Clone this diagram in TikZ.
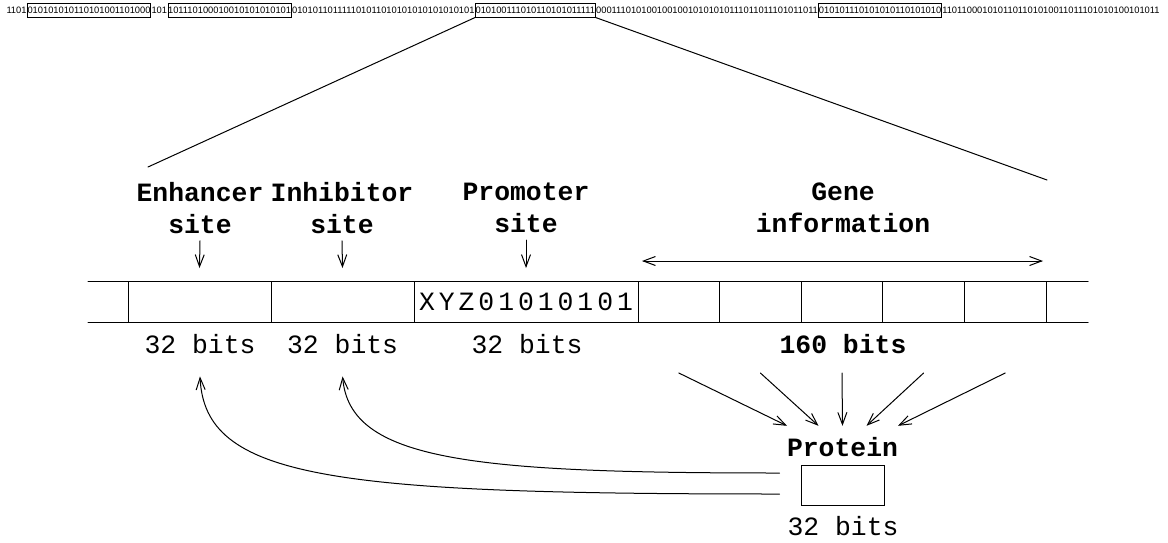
\documentclass[tikz,border=0pt]{standalone}
\usepackage{fontspec}
\setmonofont{Liberation Mono}
\newfontfamily\bitfont{Liberation Sans}
\usepackage{tikz}
\usetikzlibrary{arrows.meta, positioning, calc}

\begin{document}
\begin{tikzpicture}[x=0.5pt, y=-0.5pt, line width=0.5pt, style={line cap = round},
	>={Straight Barb[length=6pt, width=4.5pt]},
	bits/.style={font=\bitfont\fontsize{4.66}{5}\selectfont, inner sep=0pt, minimum height=7pt, anchor=west},
	bitbox/.style={bits, draw},
	lbl/.style={font=\ttfamily\bfseries\fontsize{13.2}{16}\selectfont, align=center},
	txt/.style={font=\ttfamily\fontsize{13.2}{16}\selectfont},
	spaced/.style={font=\ttfamily\fontsize{13.2}{16}\selectfont\addfontfeature{LetterSpace=15}},
	cell/.style={draw, minimum height=20.5pt, inner sep=0pt, outer sep=0pt}]
					\useasboundingbox (0,0) rectangle (1168,542);
					\node[bits] (s0) at (6,10) {1101};
					\node[bitbox, right=0pt of s0] (bx1) {010101010110101001101000};
					\node[bits, right=0pt of bx1] (s1) {101};
					\node[bitbox, right=0pt of s1] (bx2) {101110100010010101010101};
					\node[bits, right=0pt of bx2] (s2) {010101101111101011010101010101010101};
					\node[bitbox, right=0pt of s2] (bx3) {010100111010110101011111};
					\node[bits, right=0pt of bx3] (s3) {00011101010010010010101010111011011101011011};
					\node[bitbox, right=0pt of s3] (bx4) {010101110101010110101010};
					\node[bits, right=0pt of bx4] (s4) {1101100010101101101010011011101010100101011};
					\coordinate (zl) at (148,167);
					\coordinate (zr) at (1047,180);
					\draw (bx3.south west) -- (zl);
					\draw (bx3.south east) -- (zr);
					\node[cell, minimum width=71.5pt] (enh) at (199.5,302) {};
					\node[cell, minimum width=71.5pt, right=0pt of enh] (inh) {};
					\node[cell, spaced, minimum width=112pt, right=0pt of inh] (pro) {XYZ01010101};
					\foreach \i in {1,...,5}
						\node[cell, minimum width=40.8pt] (g\i) at ({638+81.6*(\i-0.5)},302) {};
					\draw (enh.north west) -- +(-40,0) (enh.south west) -- +(-40,0);
					\draw (g5.north east) -- +(42,0) (g5.south east) -- +(42,0);
					\node[lbl] (enhl) at (200,208) {Enhancer\\site};
					\node[lbl] (inhl) at (342,208) {Inhibitor\\site};
					\node[lbl] (prol) at (526,208) {Promoter\\site};
					\node[lbl] (genel) at (843,208) {Gene\\information};
					\draw[->] (enhl.south) -- ([yshift=6.75pt]enh.north);
					\draw[->] (inhl.south) -- ([yshift=6.75pt]inh.north);
					\draw[->] (prol.south) -- ([yshift=6.75pt]pro.north);
					\draw[<->] ([xshift=2pt, yshift=10.25pt]g1.north west) -- ([xshift=-1.5pt, yshift=10.25pt]g5.north east);
					\node[txt, anchor=base] (b1) at (200,353) {32 bits};
					\node[txt, anchor=base] (b2) at (342.6,353) {32 bits};
					\node[txt, anchor=base] (b3) at (527,353) {32 bits};
					\node[lbl, anchor=base] (gb) at (843,353) {160 bits};
					\node[lbl, inner sep=0pt] (prot) at (842.5,447) {Protein};
					\node[draw, minimum width=41.5pt, minimum height=20pt, inner sep=0pt] (pbox) at (842.5,485) {};
					\node[txt, anchor=base] (pb) at (843,535) {32 bits};
					\foreach \i/\dx in {1/-55.5, 2/-24, 3/0, 4/24, 5/55.5}
						\draw[->] ([yshift=-25.25pt]g\i.south) -- ($(prot.north)+(\dx,-11)$);
					\draw[->] ($(pbox.west)+(-21,-12)$) .. controls +(-310,0) and +(7,84) .. ($(b2.south)+(0,16)$);
					\draw[->] ($(pbox.west)+(-21,9)$) .. controls +(-450,0) and +(5,102) .. ($(b1.south)+(0,16)$);
\end{tikzpicture}
\end{document}
